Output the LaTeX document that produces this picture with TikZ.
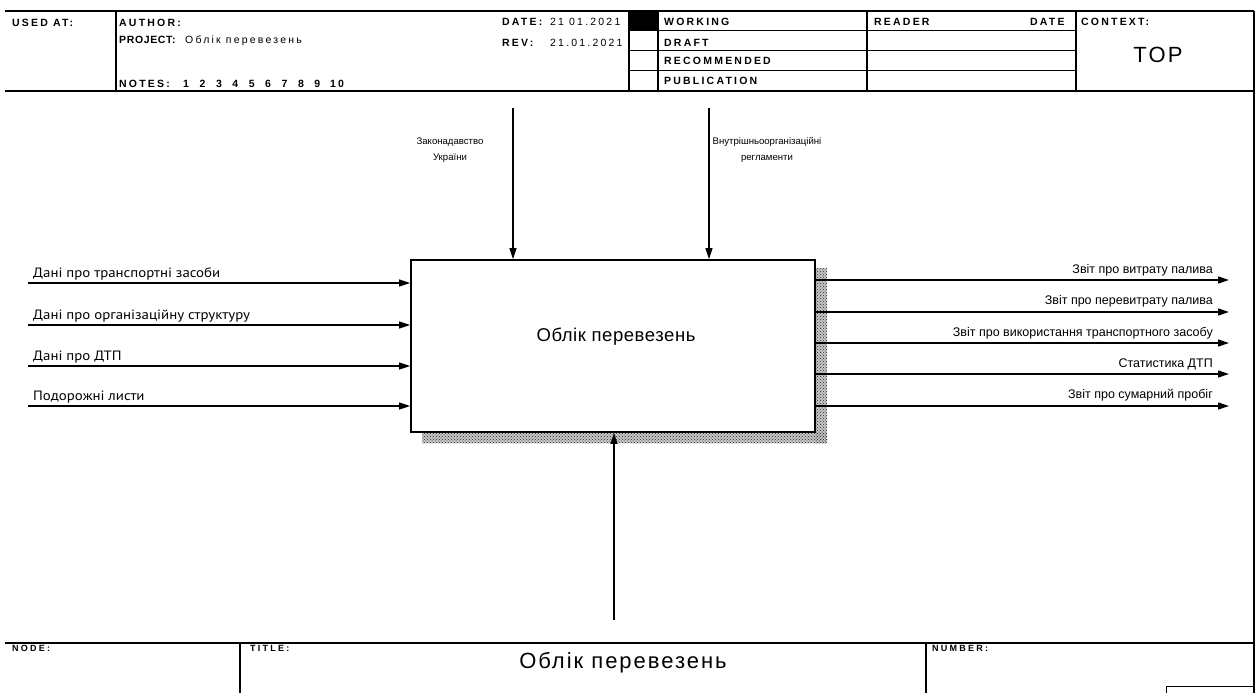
\documentclass[tikz,border=0pt]{standalone}
\usepackage{fontspec}
\setmainfont{Liberation Sans}
\newfontfamily\inputfont{PT Sans}
\usetikzlibrary{arrows.meta,patterns}

\begin{document}
\begin{tikzpicture}[x=1pt,y=-1pt,
  frame/.style={line width=1.3pt},
  thin frame/.style={line width=1pt},
  hdr/.style={anchor=base west,inner sep=0pt,
    font=\fontsize{10.5}{12}\selectfont\bfseries\addfontfeature{LetterSpace=21}},
  hdrtight/.style={anchor=base west,inner sep=0pt,
    font=\fontsize{10.5}{12}\selectfont\bfseries\addfontfeature{LetterSpace=6}},
  hdrval/.style={anchor=base west,inner sep=0pt,
    font=\fontsize{10.5}{12}\selectfont\addfontfeature{LetterSpace=21}},
  ftr/.style={anchor=base west,inner sep=0pt,
    font=\fontsize{9}{10}\selectfont\bfseries\addfontfeature{LetterSpace=25}},
  flow/.style={line width=1.3pt,-{Triangle[length=11pt,width=7pt]}},
  inlabel/.style={anchor=base west,inner sep=0pt,
    font=\inputfont\fontsize{13.5}{15}\selectfont\addfontfeature{FakeStretch=1.1}},
  outlabel/.style={anchor=base east,inner sep=0pt,font=\fontsize{12.5}{15}\selectfont},
  ctllabel/.style={align=center,inner sep=0pt,font=\fontsize{9.6}{15.5}\selectfont},
  procbox/.style={draw,line width=1.8pt,fill=white,minimum width=404pt,minimum height=172pt,inner sep=0pt},
  shadowfill/.style={fill=gray!45},
  shadowdots/.style={pattern=crosshatch dots,pattern color=black!85},
]
\useasboundingbox (0,0) rectangle (1258,693);

% ---------- header frame ----------
\draw[frame] (5,11) -- (1254,11);
\draw[frame] (5,91) -- (1254,91);
\draw[frame] (1254,11) -- (1254,693);
\foreach \xx in {116,629,658,867,1076}
  \draw[frame] (\xx,11) -- (\xx,91);
\foreach \yy in {31,51,71}
  \draw[thin frame] (629,\yy) -- (1076,\yy);
\fill (629,11) rectangle (658,31);

% ---------- header texts ----------
\node[hdr] (usedat) at (12,27) {USED AT:};
\node[hdr] (author) at (119,27) {AUTHOR:};
\node[hdrtight] (project) at (119,43.5) {PROJECT:};
\node[hdrval] (projname) at (185,43.5) {Облік перевезень};
\node[hdr] (notes) at (119,87) {NOTES:};
\foreach \i in {1,...,9}
  \node[hdr] (note\i) at ({183+16.4*(\i-1)},87) {\i};
\node[hdr] (note10) at (330,87) {10};
\node[hdr] (date) at (502,25.5) {DATE:};
\node[hdrval] (dateval) at (550,25.5) {21 01.2021};
\node[hdr] (rev) at (502,46.5) {REV:};
\node[hdrval] (revval) at (550,46.5) {21.01.2021};
\node[hdr] (working) at (664,25.5) {WORKING};
\node[hdr] (draft) at (664,46.5) {DRAFT};
\node[hdr] (recom) at (664,64.5) {RECOMMENDED};
\node[hdr] (public) at (664,84.5) {PUBLICATION};
\node[hdr] (reader) at (874,25.5) {READER};
\node[hdr] (rdate) at (1030,25.5) {DATE};
\node[hdr] (context) at (1081,25.5) {CONTEXT:};
\node[inner sep=0pt,font=\fontsize{22}{24}\selectfont\addfontfeature{LetterSpace=10}] (top) at (1158,55) {TOP};

% ---------- footer ----------
\draw[frame] (5,643) -- (1254,643);
\draw[frame] (240,643) -- (240,693);
\draw[frame] (926,643) -- (926,693);
\draw[thin frame] (1166,693) -- (1166,686) -- (1254,686);
\node[ftr] (nodelbl) at (12,651) {NODE:};
\node[ftr] (titlelbl) at (250,651) {TITLE:};
\node[ftr] (numlbl) at (932,651) {NUMBER:};
\node[inner sep=0pt,font=\fontsize{22}{24}\selectfont\addfontfeature{LetterSpace=9}] (title) at (623,663) {Облік перевезень};

% ---------- activity box with shadow ----------
\fill[shadowfill] (815,268) rectangle (827,443);
\fill[shadowfill] (422,432) rectangle (827,443);
\fill[shadowdots] (815,268) rectangle (827,443);
\fill[shadowdots] (422,432) rectangle (827,443);
\node[procbox] (proc) at (613,346) {};
\node[inner sep=0pt,font=\fontsize{18.5}{20}\selectfont\addfontfeature{LetterSpace=3}] (proctext) at (616,337) {Облік перевезень};

% ---------- inputs ----------
\coordinate (in1) at (28,283);
\coordinate (in2) at (28,325);
\coordinate (in3) at (28,366);
\coordinate (in4) at (28,406);
\foreach \c in {in1,in2,in3,in4}
  \draw[flow] (\c) -- (\c -| proc.west);
\node[inlabel] (l1) at (33,277) {Дані про транспортні засоби};
\node[inlabel] (l2) at (33,319) {Дані про організаційну структуру};
\node[inlabel] (l3) at (33,360) {Дані про ДТП};
\node[inlabel] (l4) at (33,400) {Подорожні листи};

% ---------- outputs ----------
\coordinate (out1) at (1229,280);
\coordinate (out2) at (1229,312);
\coordinate (out3) at (1229,343);
\coordinate (out4) at (1229,374);
\coordinate (out5) at (1229,406);
\foreach \c in {out1,out2,out3,out4,out5}
  \draw[flow] (\c -| proc.east) -- (\c);
\node[outlabel] (o1) at (1213,273) {Звіт про витрату палива};
\node[outlabel] (o2) at (1213,304.5) {Звіт про перевитрату палива};
\node[outlabel] (o3) at (1213,336) {Звіт про використання транспортного засобу};
\node[outlabel] (o4) at (1213,367) {Статистика ДТП};
\node[outlabel] (o5) at (1213,398) {Звіт про сумарний пробіг};

% ---------- controls ----------
\coordinate (ctl1) at (513,108);
\coordinate (ctl2) at (709,108);
\draw[flow] (ctl1) -- (ctl1 |- proc.north);
\draw[flow] (ctl2) -- (ctl2 |- proc.north);
\node[ctllabel] (c1) at (450,150) {Законадавство\\України};
\node[ctllabel] (c2) at (767,150) {Внутрішньоорганізаційні\\регламенти};

% ---------- mechanism ----------
\coordinate (mech) at (614,620);
\draw[flow] (mech) -- (mech |- proc.south);
\end{tikzpicture}
\end{document}
